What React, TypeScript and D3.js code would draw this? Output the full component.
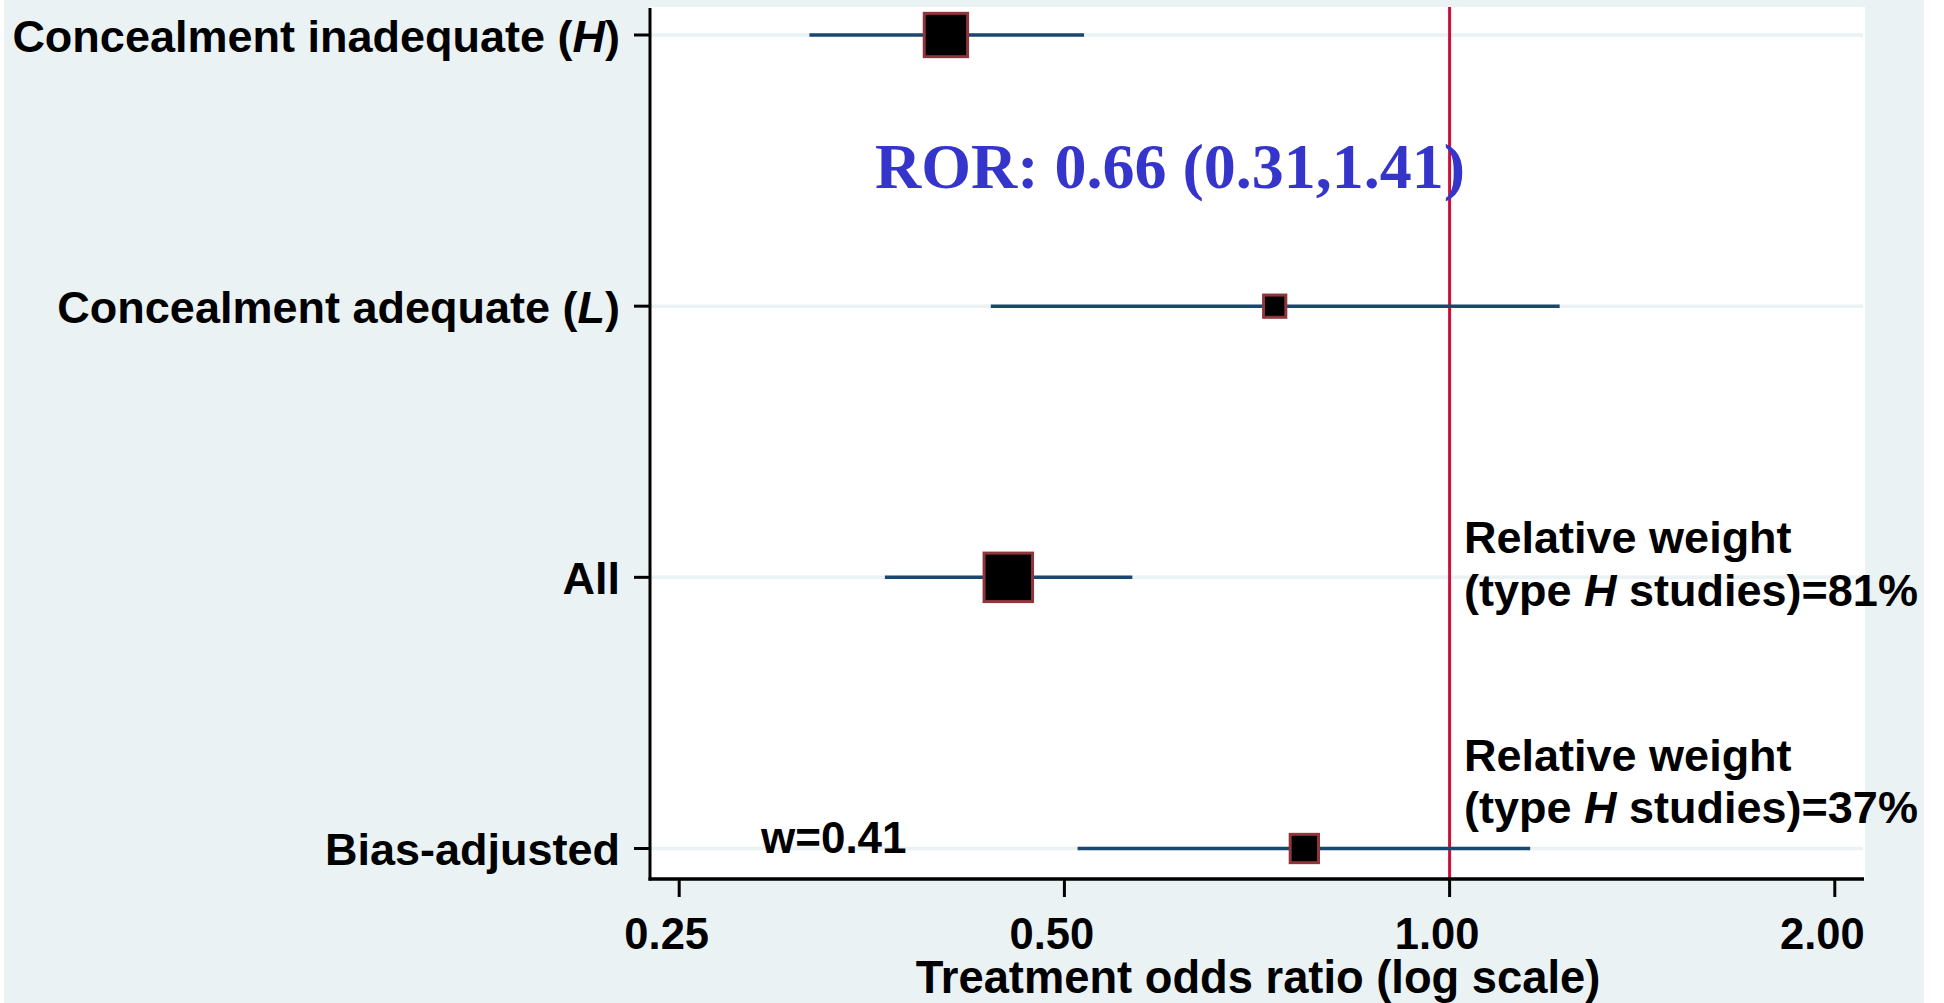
import React from "react";
import * as d3 from "d3";

// Forest plot: treatment odds ratios by allocation concealment, plus bias-adjusted estimate
const rowLabels = ["Concealment inadequate", "Concealment adequate", "All", "Bias-adjusted"];
const rowTags = ["H", "L", "", ""];
const oddsRatio = [0.404, 0.73, 0.452, 0.77];
const ciLower = [0.316, 0.438, 0.362, 0.512];
const ciUpper = [0.518, 1.219, 0.565, 1.156];
const relWeight = [0.81, 0.24, 1.0, 0.37];
const xTicks = [0.25, 0.5, 1, 2];
const annotationPct = ["81%", "37%"];

const W = 1944;
const H = 1003;
const plot = { left: 650, right: 1865, top: 7, bottom: 879 };

const SANS = "'Liberation Sans', Arial, Helvetica, sans-serif";
const SERIF = "'Liberation Serif', 'Times New Roman', serif";
const BG = "#eaf2f3";
const NAVY = "#1a476f";
const MAROON = "#90353b";
const REFLINE = "#c8103c";

export default function App() {
  const x = d3.scaleLog().base(2).domain([0.25, 2]).range([679.2, 1834.8]);
  const y = d3.scalePoint<number>().domain(d3.range(rowLabels.length)).range([35, 848.5]);
  const side = d3.scaleSqrt().domain([0, 1]).range([0, 51.5]);

  return (
    <svg
      width={W}
      height={H}
      viewBox={`0 0 ${W} ${H}`}
      style={{ position: "absolute", left: 0, top: 0, display: "block" }}
    >
      <rect x={0} y={0} width={W} height={H} fill="#ffffff" />
      <rect x={4} y={0} width={1920} height={H} fill={BG} />
      <rect x={plot.left} y={plot.top} width={plot.right - plot.left} height={plot.bottom - plot.top} fill="#ffffff" />

      {/* horizontal grid lines at each row */}
      {rowLabels.map((_, i) => (
        <line key={`g${i}`} x1={plot.left} x2={plot.right - 2} y1={y(i)} y2={y(i)} stroke={BG} strokeWidth={3.5} />
      ))}

      {/* null effect reference line */}
      <line x1={x(1)} x2={x(1)} y1={plot.top} y2={plot.bottom} stroke={REFLINE} strokeWidth={3} />

      {/* confidence intervals and weighted point estimates */}
      {rowLabels.map((_, i) => {
        const s = side(relWeight[i]) - 3;
        return (
          <g key={`m${i}`}>
            <line x1={x(ciLower[i])} x2={x(ciUpper[i])} y1={y(i)} y2={y(i)} stroke={NAVY} strokeWidth={3.5} />
            <rect
              x={x(oddsRatio[i]) - s / 2}
              y={(y(i) as number) - s / 2}
              width={s}
              height={s}
              fill="#000000"
              stroke={MAROON}
              strokeWidth={3}
            />
          </g>
        );
      })}

      {/* axes */}
      <line x1={plot.left} x2={plot.left} y1={plot.top + 1} y2={plot.bottom + 1.5} stroke="#000" strokeWidth={3} />
      <line x1={plot.left - 1.5} x2={plot.right - 1} y1={plot.bottom} y2={plot.bottom} stroke="#000" strokeWidth={3.5} />

      {rowLabels.map((lab, i) => (
        <g key={`yl${i}`}>
          <line x1={634} x2={plot.left} y1={y(i)} y2={y(i)} stroke="#000" strokeWidth={3} />
          <text
            x={620}
            y={(y(i) as number) + 16.5}
            textAnchor="end"
            fontFamily={SANS}
            fontWeight="bold"
            fontSize={45}
            fill="#000"
          >
            {rowTags[i] ? (
              <>
                {lab} (<tspan fontStyle="italic">{rowTags[i]}</tspan>)
              </>
            ) : (
              lab
            )}
          </text>
        </g>
      ))}

      {xTicks.map((t) => (
        <g key={`xt${t}`}>
          <line x1={x(t)} x2={x(t)} y1={plot.bottom} y2={897} stroke="#000" strokeWidth={3} />
          <text
            x={x(t) - 12.5}
            y={949.3}
            textAnchor="middle"
            fontFamily={SANS}
            fontWeight="bold"
            fontSize={43.5}
            fill="#000"
          >
            {d3.format(".2f")(t)}
          </text>
        </g>
      ))}

      <text x={1258} y={993} textAnchor="middle" fontFamily={SANS} fontWeight="bold" fontSize={45.3} fill="#000">
        Treatment odds ratio (log scale)
      </text>

      {/* ratio of odds ratios */}
      <text x={875} y={187.5} fontFamily={SERIF} fontWeight="bold" fontSize={64} fill="#3535cc">
        ROR: 0.66 (0.31,1.41)
      </text>

      {/* relative weight annotations */}
      {annotationPct.map((p, k) => {
        const base = k === 0 ? 553.3 : 770.5;
        return (
          <text key={`an${k}`} fontFamily={SANS} fontWeight="bold" fontSize={45} fill="#000">
            <tspan x={1464} y={base}>
              Relative weight
            </tspan>
            <tspan x={1464} y={base + 52.7}>
              (type <tspan fontStyle="italic">H</tspan> studies)={p}
            </tspan>
          </text>
        );
      })}

      <text x={761} y={853.3} fontFamily={SANS} fontWeight="bold" fontSize={44} fill="#000">
        w=0.41
      </text>
    </svg>
  );
}
